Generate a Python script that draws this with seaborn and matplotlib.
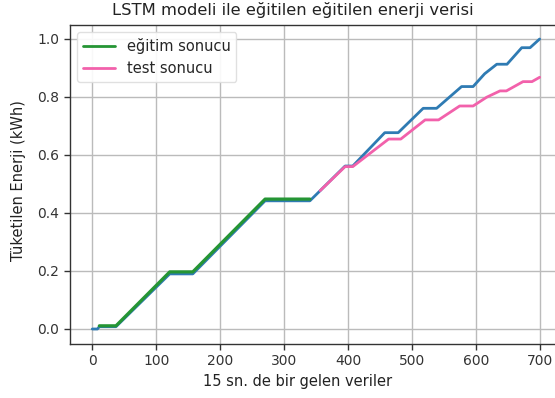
import matplotlib
matplotlib.use("Agg")
import matplotlib.pyplot as plt
import seaborn as sns
import pandas as pd

# Measured consumption (full range)
actual_x = [0, 8, 11, 37, 121, 157, 270, 340, 395, 407, 457, 478, 517, 538,
            577, 595, 613, 632, 648, 671, 684, 699]
actual_y = [0.0, 0.0, 0.008, 0.008, 0.19, 0.19, 0.442, 0.442, 0.562, 0.562,
            0.677, 0.677, 0.761, 0.761, 0.836, 0.836, 0.88, 0.913, 0.913,
            0.970, 0.970, 1.0]

# Model output on the training part
train_x = [11, 37, 121, 157, 270, 340]
train_y = [0.011, 0.011, 0.197, 0.197, 0.448, 0.448]

# Model output on the test part
test_x = [356, 395, 407, 463, 482, 520, 541, 574, 595, 616, 637, 647, 673,
          687, 699]
test_y = [0.477, 0.56, 0.56, 0.655, 0.655, 0.721, 0.721, 0.769, 0.769,
          0.799, 0.821, 0.821, 0.853, 0.853, 0.868]

x_ticks = [0, 100, 200, 300, 400, 500, 600, 700]
y_ticks = [0.0, 0.2, 0.4, 0.6, 0.8, 1.0]

sns.set_theme(style="ticks")
plt.rcParams["font.family"] = ["DejaVu Sans"]

actual = pd.DataFrame({"x": actual_x, "y": actual_y})
train = pd.DataFrame({"x": train_x, "y": train_y})
test = pd.DataFrame({"x": test_x, "y": test_y})

W, H = 555, 398
fig = plt.figure(figsize=(W / 100, H / 100), dpi=100)
left_px, right_px, top_px, bottom_px = 69.9, 562.7, 24.5, 343.5
ax = fig.add_axes([left_px / W, (H - bottom_px) / H,
                   (right_px - left_px) / W, (bottom_px - top_px) / H])

sns.lineplot(data=actual, x="x", y="y", ax=ax, color="#2f7bb3", linewidth=2.0)
sns.lineplot(data=train, x="x", y="y", ax=ax, color="#259534", linewidth=2.3,
             label="eğitim sonucu")
sns.lineplot(data=test, x="x", y="y", ax=ax, color="#f261ab", linewidth=2.0,
             label="test sonucu")

ax.set_xlim(-35, 735)
ax.set_ylim(-0.05, 1.05)
ax.set_xticks(x_ticks)
ax.set_yticks(y_ticks)
ax.set_xticklabels([str(t) for t in x_ticks])
ax.set_yticklabels([f"{t:.1f}" for t in y_ticks])
ax.grid(True, color="#bbbbbb", linewidth=1.0)
ax.set_axisbelow(True)
for s in ax.spines.values():
    s.set_color("#333333")
    s.set_linewidth(1.0)
ax.tick_params(axis="both", labelsize=10, colors="#333333", length=4,
               width=1.0, direction="out")

ax.set_xlabel("15 sn. de bir gelen veriler", fontsize=10.5, color="#222222")
ax.xaxis.set_label_coords(0.461, -0.097)
ax.set_ylabel("Tüketilen Enerji (kWh)", fontsize=10.5, color="#222222")
ax.yaxis.set_label_coords(-0.089, 0.51)
ax.set_title("LSTM modeli ile eğitilen eğitilen enerji verisi", fontsize=11.8,
             color="#222222", x=0.453, pad=7)

leg = ax.legend(loc="upper left", fontsize=10.5, frameon=True,
                handlelength=2.2, borderaxespad=0.5)
leg.get_frame().set_edgecolor("#dddddd")
leg.get_frame().set_alpha(0.9)
for line in leg.get_lines():
    line.set_linewidth(2.0)

fig.savefig("out.png", dpi=100)
